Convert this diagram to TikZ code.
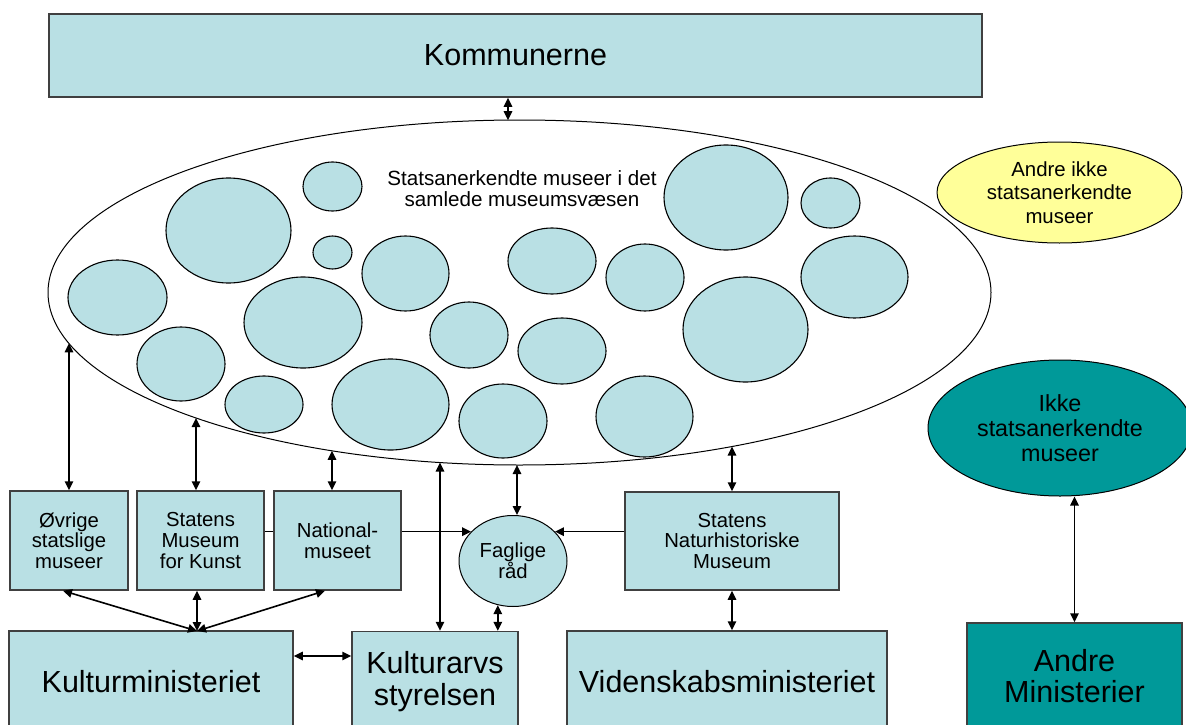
\documentclass[tikz,border=0pt]{standalone}
\usepackage{fontspec}
\setmainfont{Liberation Sans}
\usetikzlibrary{shapes.geometric,arrows.meta}
\definecolor{lb}{RGB}{185,224,228}
\definecolor{tealx}{RGB}{0,153,153}
\definecolor{yel}{RGB}{255,255,153}
\definecolor{bd}{RGB}{64,64,64}
\begin{document}
\begin{tikzpicture}[x=1pt,y=-1pt,
  box/.style={draw=bd,line width=1.5pt,fill=lb,rectangle,inner sep=0pt,align=center},
  ell/.style={ellipse,draw=black,line width=1pt,inner sep=0pt,align=center},
  circ/.style={draw=black,line width=1.1pt,fill=lb},
  bigfont/.style={font=\fontsize{30.5}{31}\selectfont},
  midfont/.style={font=\fontsize{20.3}{20.6}\selectfont},
  dbl/.style={line width=1.6pt,{Triangle[length=9pt,width=8.5pt]}-{Triangle[length=9pt,width=8.5pt]}},
  tri/.style={line width=1.6pt,-{Triangle[length=9pt,width=8.5pt]}}]
\clip (0,0) rectangle (1186,725);
\fill[white] (0,0) rectangle (1186,725);

% top box
\node[box,bigfont,minimum width=933,minimum height=83] (kom) at (515.5,55.5) {Kommunerne};

% big ellipse with museums
\node[ell,fill=white,minimum width=943,minimum height=345] (big) at (519.5,292.5) {};
\foreach \x/\y/\rx/\ry in {332.5/186.5/29.5/24.5, 228.5/230.5/62.5/52.5, 332.5/252.5/19.5/16.5,
  405.5/273.5/43.5/37.5, 117.5/297.5/49.5/37.5, 303/322.5/59/45.5, 181/364/44/37,
  264/404.5/39/28.5, 390.5/404.5/58.5/45.5, 726/197.5/62/52.5, 552/261/44/33,
  645/277.5/39/33.5, 469/335/39/33, 562/351/44/33, 745.5/329.5/62.5/52.5,
  503/421/44/37, 644.5/416.5/48.5/40.5, 830.5/203/29.5/25, 854.5/277/53.5/41}
  \draw[circ] (\x,\y) ellipse [x radius=\rx, y radius=\ry];
\node[align=center,font=\fontsize{20.6}{21}\selectfont] (bigtxt) at (522,188.5)
  {Statsanerkendte museer i det\\samlede museumsvæsen};

% right ellipses
\node[ell,fill=yel,minimum width=245,minimum height=101,font=\fontsize{20.4}{23.3}\selectfont]
  (andre) at (1059.5,192.5) {Andre ikke\\statsanerkendte\\museer};
\node[ell,fill=tealx,minimum width=264,minimum height=136,font=\fontsize{23.3}{25}\selectfont]
  (ikke) at (1060,428) {Ikke\\statsanerkendte\\museer};

% Faglige raad
\node[ell,fill=lb,minimum width=108,minimum height=91,midfont] (fag) at (513,561) {Faglige\\råd};

% middle boxes
\node[box,midfont,minimum width=118,minimum height=99] (ovr) at (69,540.5) {Øvrige\\statslige\\museer};
\node[box,midfont,minimum width=127,minimum height=99] (smk) at (200.5,540.5) {Statens\\Museum\\for Kunst};
\draw[tri] (smk.east |- fag.145) -- (fag.145);
\node[box,midfont,minimum width=127,minimum height=99] (nat) at (337.5,540.5) {National-\\museet};
\node[box,midfont,minimum width=214,minimum height=98] (snm) at (732,541) {Statens\\Naturhistoriske\\Museum};
\draw[tri] (snm.west |- fag.35) -- (fag.35);

% bottom boxes
\node[box,bigfont,minimum width=284,minimum height=102] (km) at (151,682) {Kulturministeriet};
\node[box,font=\fontsize{30.5}{32}\selectfont,minimum width=166,minimum height=100] (ka) at (435,681.5) {Kulturarvs\\styrelsen};
\node[box,bigfont,minimum width=320,minimum height=102] (vid) at (727,682) {Videnskabsministeriet};
\node[box,bigfont,fill=tealx,minimum width=215,minimum height=106] (am) at (1074.5,676) {Andre\\Ministerier};

% points on the big ellipse
\coordinate (e0) at (508,120.2);
\coordinate (e1) at (69,343.4);
\coordinate (e2) at (196,418);
\coordinate (e3) at (332,450.8);
\coordinate (e4) at (440,462.5);
\coordinate (e5) at (517,465);
\coordinate (e6) at (732,446.5);
\coordinate (kt) at (197,631);
\coordinate (h1) at (320,656);

% connectors
\draw[dbl] (e0 |- kom.south) -- (e0);
\draw[dbl] (e1) -- (ovr.north);
\draw[dbl] (e2) -- (e2 |- smk.north);
\draw[dbl] (e3) -- (e3 |- nat.north);
\draw[dbl] (e4) -- (e4 |- ka.north);
\draw[dbl] (e5) -- (e5 |- fag.north);
\draw[dbl] (e6) -- (snm.north);
\draw[dbl] (snm.south) -- (snm.south |- vid.north);
\draw[dbl] (fag.-109) -- (fag.-109 |- ka.north);
\draw[dbl] (h1 -| km.east) -- (h1 -| ka.west);
\draw[dbl] (am.north |- ikke.south) -- (am.north);
\draw[dbl] (kt) -- ([xshift=-6pt]ovr.south);
\draw[dbl] (kt) -- (kt |- smk.south);
\draw[dbl] (kt) -- ([xshift=-12.5pt]nat.south);
\end{tikzpicture}
\end{document}
